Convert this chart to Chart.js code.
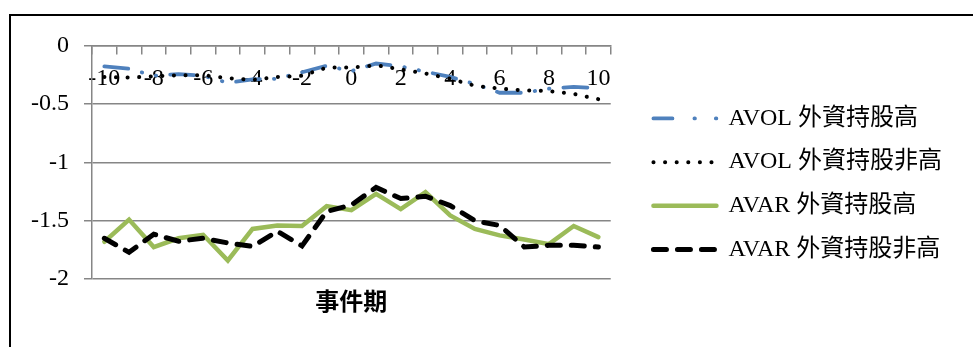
<!DOCTYPE html>
<html>
<head>
<meta charset="utf-8">
<script src="https://cdn.jsdelivr.net/npm/chart.js@4.4.1/dist/chart.umd.min.js"></script>
<style>
    html, body {
        margin: 0;
        padding: 0;
        background: #ffffff;
        overflow: hidden;
    }
    #frame {
        position: absolute;
        left: 9px;
        top: 14px;
        width: 980px;
        height: 340px;
        border-left: 2px solid #000000;
        border-top: 2px solid #000000;
    }
    #chart {
        display: block;
    }
</style>
</head>
<body>
<div id="frame">
    <canvas id="chart" width="960" height="331"></canvas>
</div>
<script>
// Event window
const periods = [
    "-10", "-9", "-8", "-7", "-6", "-5", "-4", "-3", "-2", "-1", "0",
    "1", "2", "3", "4", "5", "6", "7", "8", "9", "10",
];

// AVOL, high foreign holding
const avolHigh = [
    -0.18, -0.2, -0.26, -0.245, -0.26, -0.32, -0.29, -0.285, -0.23, -0.175, -0.22,
    -0.155, -0.18, -0.225, -0.27, -0.33, -0.405, -0.405, -0.37, -0.355, -0.365,
];

// AVOL, non-high foreign holding
const avolLow = [
    -0.27, -0.275, -0.265, -0.255, -0.255, -0.28, -0.295, -0.27, -0.26, -0.19, -0.19,
    -0.17, -0.205, -0.24, -0.285, -0.345, -0.37, -0.385, -0.39, -0.415, -0.46,
];

// AVAR, high foreign holding
const avarHigh = [
    -1.68, -1.49, -1.725, -1.65, -1.62, -1.84, -1.57, -1.54, -1.545, -1.375, -1.41,
    -1.27, -1.4, -1.255, -1.455, -1.57, -1.625, -1.66, -1.7, -1.545, -1.64,
];

// AVAR, non-high foreign holding
const avarLow = [
    -1.65, -1.77, -1.615, -1.675, -1.65, -1.69, -1.72, -1.59, -1.715, -1.42, -1.365,
    -1.215, -1.31, -1.29, -1.37, -1.5, -1.54, -1.725, -1.71, -1.71, -1.725,
];

const yTicks = [0, -0.5, -1, -1.5, -2];

const serif = "'Liberation Serif', 'Noto Sans CJK TC', serif";
const gridGray = "#868686";

const ctx = document.getElementById("chart").getContext("2d");
const eventChart = new Chart(ctx, {
    type: "line",
    data: {
        labels: periods,
        datasets: [
            {
                label: "AVOL 外資持股高",
                data: avolHigh,
                borderColor: "#4f81bd",
                backgroundColor: "#4f81bd",
                borderWidth: 3.8,
                borderDash: [24, 14, 0.5, 14, 0.5, 14],
                // shorter sample for the legend: dash, dot, dot
                legendDash: [19, 22, 0.5, 20.9, 0.5, 100],
                borderCapStyle: "round",
                order: 4,
            },
            {
                label: "AVOL 外資持股非高",
                data: avolLow,
                borderColor: "#000000",
                backgroundColor: "#000000",
                borderWidth: 4,
                borderDash: [0.1, 11.5],
                borderCapStyle: "round",
                order: 3,
            },
            {
                label: "AVAR 外資持股高",
                data: avarHigh,
                borderColor: "#9bbb59",
                backgroundColor: "#9bbb59",
                borderWidth: 4.5,
                borderCapStyle: "round",
                order: 2,
            },
            {
                label: "AVAR 外資持股非高",
                data: avarLow,
                borderColor: "#000000",
                backgroundColor: "#000000",
                borderWidth: 5,
                borderDash: [13, 11],
                borderCapStyle: "round",
                order: 1,
            },
        ],
    },
    options: {
        responsive: false,
        animation: false,
        devicePixelRatio: 1,
        layout: {
            padding: { left: 0, top: 28, right: 19, bottom: 23 },
        },
        elements: {
            point: { radius: 0, hoverRadius: 0 },
            line: { tension: 0, fill: false },
        },
        plugins: {
            tooltip: { enabled: false },
            legend: {
                position: "right",
                maxWidth: 420,
                labels: {
                    usePointStyle: true,
                    pointStyle: "line",
                    pointStyleWidth: 63,
                    boxWidth: 63,
                    padding: 19.7,
                    color: "#000000",
                    font: { family: serif, size: 24 },
                    generateLabels: (chart) =>
                        chart.data.datasets.map((ds, i) => ({
                            text: ds.label,
                            datasetIndex: i,
                            fillStyle: ds.borderColor,
                            strokeStyle: ds.borderColor,
                            fontColor: "#000000",
                            lineWidth: ds.borderWidth,
                            lineDash: ds.legendDash || ds.borderDash || [],
                            lineCap: ds.borderCapStyle,
                            pointStyle: "line",
                            hidden: !chart.isDatasetVisible(i),
                        })),
                },
            },
            title: {
                display: true,
                text: "事件期",
                position: "bottom",
                fullSize: false,
                color: "#000000",
                font: { family: "'Noto Sans CJK TC'", size: 24, weight: "bold" },
                padding: { top: 7, bottom: 9 },
            },
        },
        scales: {
            x: {
                type: "category",
                position: { y: 0 },
                offset: true,
                grid: {
                    offset: true,
                    drawOnChartArea: false,
                    drawTicks: true,
                    tickLength: 8,
                    color: gridGray,
                    lineWidth: 1.5,
                },
                border: { color: gridGray, width: 1.5 },
                ticks: {
                    autoSkip: false,
                    maxRotation: 0,
                    padding: 11,
                    color: "#000000",
                    font: { family: serif, size: 24 },
                    callback: function (value, index) {
                        return index % 2 === 0 ? this.getLabelForValue(value) : "";
                    },
                },
            },
            y: {
                min: -2,
                max: 0,
                afterBuildTicks: (scale) => {
                    scale.ticks = yTicks.map((v) => ({ value: v }));
                },
                afterFit: (scale) => {
                    scale.width = 81;
                },
                grid: {
                    color: gridGray,
                    lineWidth: 1.5,
                    tickLength: 8,
                },
                border: { color: gridGray, width: 1.5 },
                ticks: {
                    padding: 15,
                    color: "#000000",
                    font: { family: serif, size: 24 },
                    callback: (value) => String(value),
                },
            },
            // spacer between the plot and the legend
            gap: {
                type: "linear",
                position: "right",
                grid: { display: false },
                border: { display: false },
                ticks: { display: false },
                afterFit: (scale) => {
                    scale.width = 23;
                },
            },
        },
    },
});
</script>
</body>
</html>
